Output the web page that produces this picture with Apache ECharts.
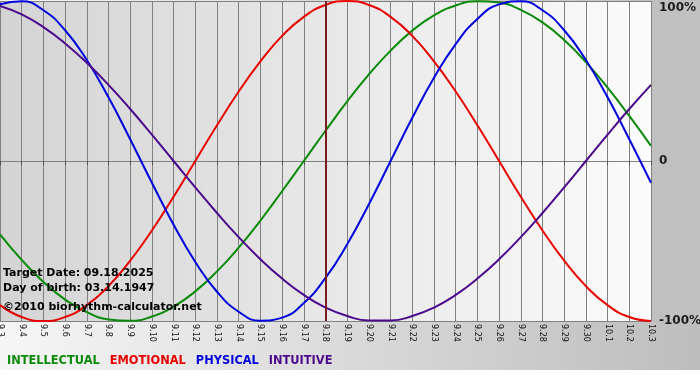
<!DOCTYPE html>
<html>
<head>
<meta charset="utf-8">
<script src="https://cdn.jsdelivr.net/npm/echarts@6/dist/echarts.min.js"></script>
<style>
  html, body { margin: 0; padding: 0; background: #fff; }
  #chart { width: 700px; height: 370px; }
</style>
</head>
<body>
<div id="chart"></div>
<script>
// day labels, 09.03.2025 .. 10.03.2025
const days = [
  "9.3", "9.4", "9.5", "9.6", "9.7", "9.8", "9.9", "9.10", "9.11", "9.12",
  "9.13", "9.14", "9.15", "9.16", "9.17", "9.18", "9.19", "9.20", "9.21", "9.22",
  "9.23", "9.24", "9.25", "9.26", "9.27", "9.28", "9.29", "9.30", "10.1", "10.2", "10.3"
];

// cycle values, -1 .. 1
const intellectual = [
  -0.458, -0.618, -0.756, -0.866, -0.945, -0.99, -0.999, -0.972, -0.91, -0.815,
  -0.69, -0.541, -0.372, -0.189, 0.0, 0.189, 0.372, 0.541, 0.69, 0.815,
  0.91, 0.972, 0.999, 0.99, 0.945, 0.866, 0.756, 0.618, 0.458, 0.282, 0.095
];
const emotional = [
  -0.901, -0.975, -1.0, -0.975, -0.901, -0.782, -0.623, -0.434, -0.223, 0.0,
  0.223, 0.434, 0.623, 0.782, 0.901, 0.975, 1.0, 0.975, 0.901, 0.782,
  0.623, 0.434, 0.223, 0.0, -0.223, -0.434, -0.623, -0.782, -0.901, -0.975, -1.0
];
const physical = [
  0.979, 0.998, 0.942, 0.817, 0.631, 0.398, 0.136, -0.136, -0.398, -0.631,
  -0.817, -0.942, -0.998, -0.979, -0.888, -0.731, -0.52, -0.27, 0.0, 0.27,
  0.52, 0.731, 0.888, 0.979, 0.998, 0.942, 0.817, 0.631, 0.398, 0.136, -0.136
];
const intuitive = [
  0.969, 0.916, 0.837, 0.735, 0.614, 0.476, 0.325, 0.165, 0.0, -0.165,
  -0.325, -0.476, -0.614, -0.735, -0.837, -0.916, -0.969, -0.997, -0.997, -0.969,
  -0.916, -0.837, -0.735, -0.614, -0.476, -0.325, -0.165, 0.0, 0.165, 0.325, 0.476
];

const yTickLabels = { "-1": "-100%", "0": "0", "1": "100%" };
const targetDay = "9.18";
const infoLines = [
  "Target Date: 09.18.2025",
  "Day of birth: 03.14.1947",
  "\u00a92010 biorhythm-calculator.net"
];

const FONT = "DejaVu Sans";
const chart = echarts.init(document.getElementById("chart"));

const line = (name, color, data) => ({
  name: name,
  type: "line",
  data: data,
  smooth: true,
  showSymbol: false,
  color: color,
  lineStyle: { width: 2, color: color },
  z: 3
});

const legendNames = [
  ["INTELLECTUAL", "#0a8a0a"],
  ["EMOTIONAL", "#e80000"],
  ["PHYSICAL", "#0000dd"],
  ["INTUITIVE", "#4b0a8c"]
];

const series = [
  line("INTELLECTUAL", "#0a8a0a", intellectual),
  line("EMOTIONAL", "#e80000", emotional),
  line("PHYSICAL", "#0000dd", physical),
  line("INTUITIVE", "#4b0a8c", intuitive)
];
// target date marker
series[0].markLine = {
  silent: true,
  symbol: "none",
  label: { show: false },
  lineStyle: { color: "#7a1c1c", width: 2, type: "solid" },
  data: [{ xAxis: targetDay }]
};

chart.setOption({
  animation: false,
  backgroundColor: {
    type: "linear", x: 0, y: 0, x2: 1, y2: 0,
    colorStops: [
      { offset: 0, color: "#f6f6f6" },
      { offset: 1, color: "#bdbdbd" }
    ]
  },
  grid: {
    left: 0, right: 49, top: 1, bottom: 49,
    outerBoundsMode: "none",
    containLabel: false,
    show: true,
    borderWidth: 0,
    backgroundColor: {
      type: "linear", x: 0, y: 0, x2: 1, y2: 0,
      colorStops: [
        { offset: 0, color: "#d4d4d4" },
        { offset: 1, color: "#fbfbfb" }
      ]
    }
  },
  graphic: [
    {
      type: "rect", silent: true, z: -1,
      shape: { x: 651, y: 0, width: 49, height: 322 },
      style: { fill: "#c0c0c0" }
    },
    ...infoLines.map((t, i) => ({
      type: "text", left: 3, top: [268, 283, 302][i], z: 10,
      style: { text: t, fill: "#000", font: "bold 11px '" + FONT + "'" }
    }))
  ],
  legend: {
    left: -3, top: 351,
    icon: "rect", itemWidth: 0, itemHeight: 0, itemGap: 5,
    selectedMode: false,
    textStyle: { fontFamily: FONT, fontWeight: "bold", fontSize: 11.4 },
    data: legendNames.map(([n, c]) => ({ name: n, textStyle: { color: c } }))
  },
  xAxis: {
    type: "category",
    data: days,
    boundaryGap: false,
    axisLine: { show: true, lineStyle: { color: "#7f7f7f", width: 1 } },
    axisTick: { show: true, length: 4, lineStyle: { color: "#555" } },
    axisLabel: {
      interval: 0, rotate: -90, margin: 3,
      color: "#111", fontFamily: FONT, fontSize: 8
    },
    splitLine: { show: true, interval: 0, lineStyle: { color: "#808080", width: 1 } }
  },
  yAxis: {
    type: "value",
    position: "right",
    min: -1, max: 1, interval: 1,
    axisLine: { show: false },
    axisTick: { show: false },
    splitLine: { show: true, lineStyle: { color: "#808080", width: 1 } },
    axisLabel: {
      margin: 8,
      fontFamily: FONT, fontWeight: "bold", fontSize: 12, color: "#1a1a1a",
      formatter: v => v === 1 ? "{top|" + yTickLabels["1"] + "}" : yTickLabels[String(v)],
      rich: {
        top: { fontFamily: FONT, fontWeight: "bold", fontSize: 12, color: "#1a1a1a", padding: [13, 0, 0, 0] }
      }
    }
  },
  series: series
});
</script>
</body>
</html>
